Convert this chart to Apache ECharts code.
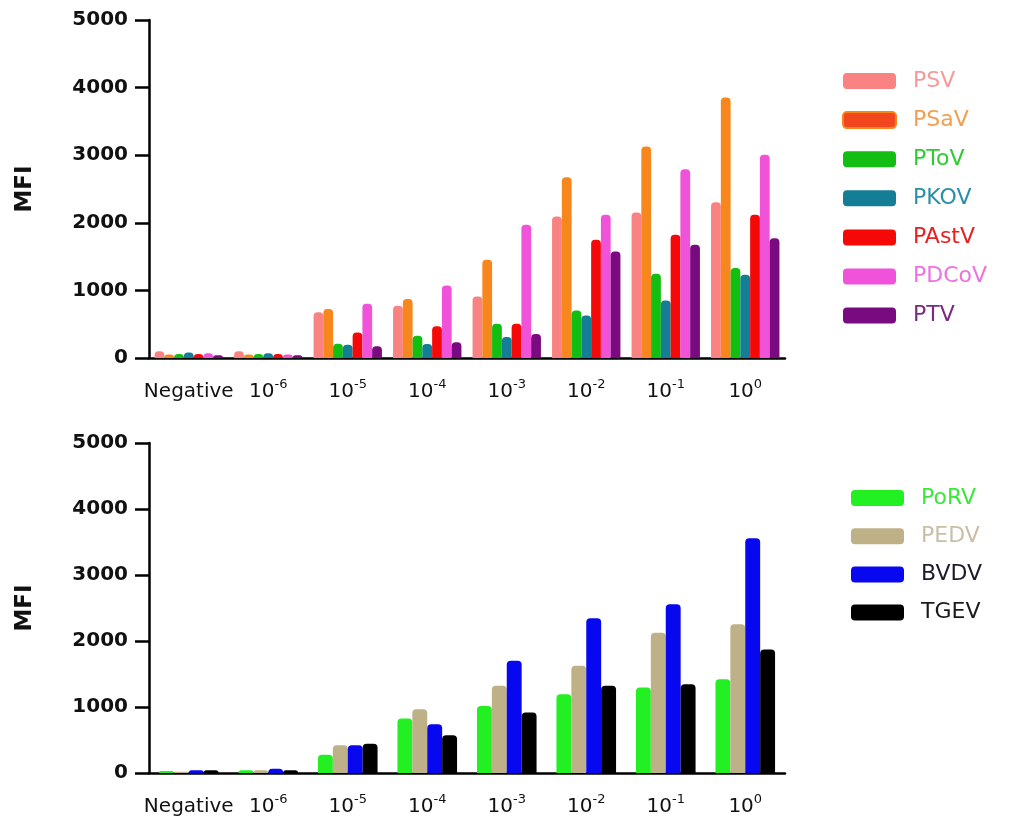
<!DOCTYPE html>
<html>
<head>
<meta charset="utf-8">
<script src="https://cdn.jsdelivr.net/npm/echarts@6/dist/echarts.min.js"></script>
<style>
  html, body { margin: 0; padding: 0; background: #fff; }
  #chart { width: 1013px; height: 825px; }
</style>
</head>
<body>
<div id="chart"></div>
<script>
// dilution categories
var categories = ['Negative', '10^-6', '10^-5', '10^-4', '10^-3', '10^-2', '10^-1', '10^0'];

// top panel
var PSV   = [100, 100, 675, 773, 911, 2094, 2153, 2305];
var PSaV  = [50, 50, 724, 872, 1453, 2675, 3128, 3852];
var PToV  = [60, 60, 212, 330, 507, 704, 1246, 1330];
var PKOV  = [80, 70, 197, 207, 310, 630, 852, 1232];
var PAstV = [60, 60, 379, 468, 507, 1749, 1823, 2118];
var PDCoV = [70, 50, 803, 1074, 1970, 2118, 2793, 3005];
var PTV   = [40, 40, 172, 232, 355, 1576, 1675, 1773];

// bottom panel
var PoRV = [30, 40, 278, 825, 1017, 1194, 1296, 1422];
var PEDV = [20, 40, 420, 967, 1321, 1624, 2126, 2252];
var BVDV = [40, 66, 420, 739, 1700, 2343, 2556, 3558];
var TGEV = [40, 40, 445, 572, 916, 1321, 1346, 1872];

var yTicks = [0, 1000, 2000, 3000, 4000, 5000];

var topSeries = [
  { name: 'PSV', data: PSV, color: '#F98282', text: '#F59A9A' },
  { name: 'PSaV', data: PSaV, color: '#F7861C', text: '#F0A050', icon: { color: '#F2461E', borderColor: '#F7861C', borderWidth: 2 } },
  { name: 'PToV', data: PToV, color: '#12BE12', text: '#2ECC2E' },
  { name: 'PKOV', data: PKOV, color: '#137E96', text: '#2A8FA8' },
  { name: 'PAstV', data: PAstV, color: '#F50808', text: '#E82020' },
  { name: 'PDCoV', data: PDCoV, color: '#F052DA', text: '#EE72DE' },
  { name: 'PTV', data: PTV, color: '#7A0A80', text: '#7A2A80' }
];
var bottomSeries = [
  { name: 'PoRV', data: PoRV, color: '#22F022', text: '#3AE83A' },
  { name: 'PEDV', data: PEDV, color: '#BEB087', text: '#C8BFA5' },
  { name: 'BVDV', data: BVDV, color: '#0808F0', text: '#1A1A2A' },
  { name: 'TGEV', data: TGEV, color: '#000000', text: '#1A1A1A' }
];

var FONT = '"DejaVu Sans", "Liberation Sans", Arial, sans-serif';

function catLabel(v) {
  if (v.indexOf('^') < 0) return '{b|' + v + '}';
  var p = v.split('^');
  return '{b|' + p[0] + '}{s|' + p[1] + '}';
}

function xAxisFor(idx) {
  return {
    type: 'category',
    gridIndex: idx,
    data: categories,
    axisLine: { lineStyle: { color: '#000', width: 2.5 } },
    axisTick: { alignWithLabel: true, length: 7, lineStyle: { color: '#000', width: 2.5 } },
    axisLabel: {
      margin: 20,
      interval: 0,
      formatter: catLabel,
      rich: {
        b: { fontSize: 20, color: '#111', fontFamily: FONT, lineHeight: 24, verticalAlign: 'bottom' },
        s: { fontSize: 13, color: '#111', fontFamily: FONT, lineHeight: 24, verticalAlign: 'top', padding: [0, 0, 9, 0] }
      }
    }
  };
}

function yAxisFor(idx) {
  return {
    type: 'value',
    gridIndex: idx,
    min: 0,
    max: 5000,
    interval: 1000,
    name: 'MFI',
    nameLocation: 'middle',
    nameGap: 112,
    nameTextStyle: { fontSize: 23, fontWeight: 'bold', color: '#111', fontFamily: FONT },
    splitLine: { show: false },
    axisLine: { show: true, lineStyle: { color: '#000', width: 2.5 } },
    axisTick: { show: true, length: 14, lineStyle: { color: '#000', width: 2.5 } },
    axisLabel: {
      margin: 21,
      fontSize: 20,
      fontWeight: 'bold',
      color: '#111',
      fontFamily: FONT,
      formatter: function (v) { return yTicks.indexOf(v) >= 0 ? String(v) : ''; }
    }
  };
}

function barsFor(list, idx, gap) {
  return list.map(function (s) {
    return {
      name: s.name,
      type: 'bar',
      xAxisIndex: idx,
      yAxisIndex: idx,
      data: s.data,
      barGap: '0%',
      barCategoryGap: gap,
      itemStyle: { color: s.color, borderRadius: [4, 4, 0, 0] }
    };
  });
}

function legendFor(list, left, top, gap) {
  return {
    orient: 'vertical',
    left: left,
    top: top,
    itemWidth: 53,
    itemHeight: 16,
    itemGap: gap,
    selectedMode: false,
    textStyle: { fontSize: 22, lineHeight: 20, fontFamily: FONT, padding: [0, 0, 0, 12] },
    data: list.map(function (s) {
      return { name: s.name, itemStyle: s.icon || { color: s.color }, textStyle: { color: s.text } };
    })
  };
}

var options = {
  animation: false,
  backgroundColor: '#fff',
  grid: [
    { left: 149, top: 20, width: 636, height: 338 },
    { left: 149, top: 443, width: 636, height: 330 }
  ],
  legend: [
    legendFor(topSeries, 837, 65, 17.1),
    legendFor(bottomSeries, 846, 482, 16.2)
  ],
  xAxis: [xAxisFor(0), xAxisFor(1)],
  yAxis: [yAxisFor(0), yAxisFor(1)],
  series: barsFor(topSeries, 0, '14%').concat(barsFor(bottomSeries, 1, '25%'))
};

var myChart = echarts.init(document.getElementById('chart'));
myChart.setOption(options);
</script>
</body>
</html>
